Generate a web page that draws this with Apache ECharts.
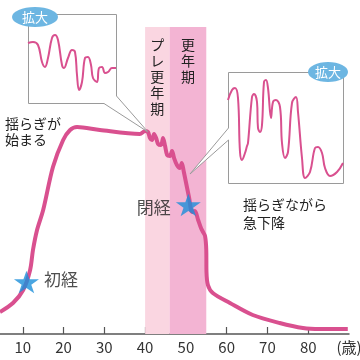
<!DOCTYPE html>
<html><head><meta charset="utf-8">
<script src="https://cdn.jsdelivr.net/npm/echarts@6/dist/echarts.min.js"></script>
<style>html,body{margin:0;padding:0;background:#fff}#c{width:360px;height:360px}</style>
</head><body><div id="c"></div>
<script>
// Main hormone curve (age in years, relative level)
const ages = [4.4, 7.6, 10.1, 11.8, 12.5, 13.5, 15, 17.4, 19.9, 21.6, 23.3, 28.9, 38.7, 40.0, 40.7, 41.2, 41.7, 42.2, 42.7, 43.2, 43.9, 44.4, 44.9, 45.4, 46.1, 46.6, 47.1, 47.8, 48.5, 49.0, 49.5, 50.0, 50.8, 51.5, 52.2, 53.0, 53.7, 54.2, 54.7, 55.0, 55.05, 55.4, 56.6, 60.8, 66.4, 73, 78.7, 82.9, 89.7];
const levels = [22, 31, 44, 64, 84, 104, 124, 167, 194, 204, 207, 204, 200, 203, 202, 196, 194, 200, 196, 190, 189, 196, 188, 179, 178, 183, 176, 169, 166, 171, 162, 152, 136, 122, 123, 114, 106, 102, 98, 84, 62, 49, 41, 31, 19, 11, 6, 5, 5];
// Events (stars)
const eventNames = ['初経', '閉経'];
const eventAges = [10.9, 50.6];
const eventLevels = [52, 129];
// Life-stage bands
const bandNames = ['プレ更年期', '更年期'];
const bandStart = [40, 46];
const bandEnd = [46, 55];
const bandTop = 307;
// Axis ticks
const tickValues = [10, 20, 30, 40, 50, 60, 70, 80];
const labelValues = [10, 20, 30, 40, 50, 60, 70, 80, 90];
const unitLabel = '(歳)';
// Magnified views
const zoomLeftT = [0, 5, 10, 14, 17, 20, 24, 27, 30, 34, 36, 40, 44, 47, 49, 51, 54, 57, 60, 63, 65, 69, 71, 74, 77, 80, 84, 88];
const zoomLeftV = [60, 61, 58, 41, 36, 45, 65, 68, 63, 38, 35, 45, 53, 51, 28, 13, 21, 45, 46, 38, 25, 21, 35, 36, 30, 31, 35, 35];
const zoomRightT = [0, 4, 7, 10, 12, 14, 17, 19, 20, 24, 26, 29, 30, 32, 34, 36, 38, 40, 43, 45, 48, 52, 54, 57, 60, 64, 68, 70, 74, 77, 82, 87, 90, 94, 97, 102, 109, 115];
const zoomRightV = [83, 93, 95, 85, 31, 23, 30, 37, 40, 86, 89, 81, 55, 51, 58, 101, 103, 95, 65, 81, 83, 76, 40, 25, 31, 80, 86, 71, 25, 5, 11, 35, 36, 30, 15, 7, 11, 20];
// Annotations
const noteStart = '揺らぎが\n始まる';
const noteDrop = '揺らぎながら\n急下降';
const badgeText = '拡大';

const PINK = '#d9508f';
const FONT = '"Noto Sans CJK JP", "Noto Sans", sans-serif';
const starPath = 'path://M50,0 L61.8,35.1 L98.9,35.1 L68.9,56.7 L80.3,91.9 L50,70 L19.7,91.9 L31.1,56.7 L1.1,35.1 L38.2,35.1 Z';

const chart = echarts.init(document.getElementById('c'), null, {renderer: 'canvas'});

const bandColors = ['#fad6e1', '#f3b4d3'];
const markData = bandNames.map((n, i) => [
  {name: n, xAxis: bandStart[i], yAxis: 0, itemStyle: {color: bandColors[i]}},
  {xAxis: bandEnd[i], yAxis: bandTop}
]);

const hidden = {show: false};
chart.setOption({
  animation: false,
  textStyle: {fontFamily: FONT},
  grid: [
    {left: -18, right: 11, top: 0, bottom: 26, containLabel: false, outerBoundsMode: 'none'},
    {left: 28, top: 14, width: 88, height: 89, containLabel: false, outerBoundsMode: 'none'},
    {left: 228, top: 72, width: 115, height: 111, containLabel: false, outerBoundsMode: 'none'}
  ],
  xAxis: [
    {gridIndex: 0, type: 'value', min: 0, max: 90,
     axisLine: {show: true, lineStyle: {color: '#555', width: 1.5}},
     axisTick: {show: true, inside: true, length: 7, customValues: tickValues, lineStyle: {color: '#555', width: 1.2}},
     axisLabel: {show: true, customValues: labelValues, fontSize: 15, color: '#333', margin: 6, fontFamily: FONT,
       formatter: v => v === 90 ? unitLabel : String(v)},
     splitLine: hidden},
    {gridIndex: 1, type: 'value', min: 0, max: 88, show: false},
    {gridIndex: 2, type: 'value', min: 0, max: 115, show: false}
  ],
  yAxis: [
    {gridIndex: 0, type: 'value', min: 0, max: 334, show: false},
    {gridIndex: 1, type: 'value', min: 0, max: 89, show: false},
    {gridIndex: 2, type: 'value', min: 0, max: 111, show: false}
  ],
  series: [
    {type: 'line', xAxisIndex: 0, yAxisIndex: 0, z: 2,
     data: ages.map((a, i) => [a, levels[i]]),
     smooth: 0.3, symbol: 'none',
     lineStyle: {color: PINK, width: 4},
     markArea: {silent: true, z: 1,
       label: {show: true, position: 'insideTop', distance: 10, fontSize: 14, lineHeight: 16, color: '#222', fontFamily: FONT,
         formatter: p => p.name.split('').join('\n')},
       data: markData}
    },
    {type: 'scatter', xAxisIndex: 0, yAxisIndex: 0, z: 4,
     symbol: starPath, symbolSize: [25, 24], symbolKeepAspect: true,
     itemStyle: {color: '#1b8fd9'},
     data: eventNames.map((n, i) => ({
       name: n, value: [eventAges[i], eventLevels[i]],
       label: {show: true, formatter: '{b}', position: i === 0 ? 'right' : 'left', distance: 5,
         offset: i === 0 ? [0, -2] : [0, 3], fontSize: 17, color: '#222', fontFamily: FONT}
     }))
    },
    {type: 'line', xAxisIndex: 1, yAxisIndex: 1, z: 10,
     data: zoomLeftT.map((t, i) => [t, zoomLeftV[i]]),
     smooth: 0.4, symbol: 'none', lineStyle: {color: PINK, width: 2}},
    {type: 'line', xAxisIndex: 2, yAxisIndex: 2, z: 10,
     data: zoomRightT.map((t, i) => [t, zoomRightV[i]]),
     smooth: 0.4, symbol: 'none', lineStyle: {color: PINK, width: 2}}
  ],
  graphic: {elements: [
    {type: 'polygon', z: 5, shape: {points: [[28.5,14.5],[116.5,14.5],[116.5,96],[148,132],[104,103.5],[28.5,103.5]]},
     style: {fill: '#fff', stroke: '#9a9a9a', lineWidth: 1}},
    {type: 'polygon', z: 5, shape: {points: [[228.5,72.5],[343.5,72.5],[343.5,183.5],[228.5,183.5],[228.5,140],[190,174],[228.5,128]]},
     style: {fill: '#fff', stroke: '#9a9a9a', lineWidth: 1}},
    {type: 'ellipse', z: 11, shape: {cx: 35, cy: 17, rx: 23, ry: 10}, style: {fill: '#6db6e2'}},
    {type: 'text', z: 12, style: {text: badgeText, x: 35, y: 17, align: 'center', verticalAlign: 'middle', font: '13px ' + FONT, fill: '#fff'}},
    {type: 'ellipse', z: 11, shape: {cx: 328, cy: 72, rx: 20, ry: 10}, style: {fill: '#6db6e2'}},
    {type: 'text', z: 12, style: {text: badgeText, x: 328, y: 72, align: 'center', verticalAlign: 'middle', font: '13px ' + FONT, fill: '#fff'}},
    {type: 'text', z: 12, style: {text: noteStart, x: 5, y: 116, align: 'left', verticalAlign: 'top', font: '14px ' + FONT, lineHeight: 16, fill: '#222'}},
    {type: 'text', z: 12, style: {text: noteDrop, x: 243, y: 196, align: 'left', verticalAlign: 'top', font: '14px ' + FONT, lineHeight: 18, fill: '#222'}}
  ]}
});
</script></body></html>
